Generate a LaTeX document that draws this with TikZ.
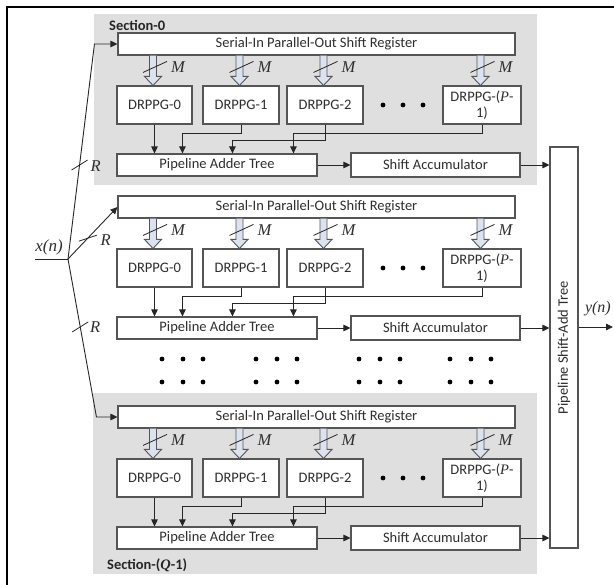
\documentclass[tikz,border=0pt]{standalone}
\usepackage{fontspec}
\setmainfont{Carlito}
\newfontfamily\tms{Liberation Serif}
\usetikzlibrary{arrows.meta,calc}
\definecolor{secgray}{HTML}{DFDFDF}
\definecolor{boxline}{HTML}{555555}
\definecolor{txt}{HTML}{2E2E2E}
\definecolor{hol}{HTML}{DCE3F0}
\newcommand\vi[1]{{\tms\itshape #1}}
\begin{document}
\begin{tikzpicture}[x=1pt,y=-1pt,
  font=\fontsize{14.5}{15}\selectfont,
  box/.style={draw=boxline, line width=1.1pt, fill=white, text=txt, inner sep=0pt},
  conn/.style={draw=black!85, line width=0.9pt, -{Triangle[length=7pt,width=6.5pt]}},
  plain/.style={draw=black!85, line width=0.9pt},
  hollow/.style={draw=boxline, line width=0.9pt, fill=hol},
  lab/.style={font=\fontsize{16.5}{16}\selectfont\tms\itshape, text=txt, inner sep=0pt},
  seclab/.style={font=\fontsize{14.5}{15}\selectfont\bfseries, text=black!85, anchor=west, inner sep=0pt},
  bigdot/.style={fill=black}]
\useasboundingbox (0,0) rectangle (614,585);
% frame
\draw[line width=2.6pt] (7,585) -- (7,7) -- (614,7);
% section backgrounds
\fill[secgray] (94,14) rectangle (537,185);
\fill[secgray] (93,393) rectangle (537,574);
\node[seclab] at (109,25) {Section-0};
\node[seclab] at (107,565) {Section-(\vi{\bfseries Q}-1)};
% pipeline shift-add tree
\node[box, rotate=90, minimum width=401, minimum height=28] (psat) at (564,347.5) {Pipeline Shift-Add Tree};
% sections
\foreach \s/\o in {a/0,b/163,c/373}{
  \begin{scope}[shift={(0,\o)}]
    \node[box, minimum width=397, minimum height=22] (sr\s) at (316.5,44) {Serial-In Parallel-Out Shift Register};
    \node[box, minimum width=75, minimum height=38] (d0\s) at (154.5,105) {DRPPG-0};
    \node[box, minimum width=76, minimum height=38] (d1\s) at (241,105) {DRPPG-1};
    \node[box, minimum width=76, minimum height=38] (d2\s) at (325,105) {DRPPG-2};
    \node[box, minimum width=78, minimum height=38, align=center, font=\fontsize{14.5}{16}\selectfont] (dp\s) at (482,105) {DRPPG-(\vi{P}-\\1)};
    \fill[bigdot] (383,105) circle (2.4) (403,105) circle (2.4) (423,105) circle (2.4);
    \node[box, minimum width=200, minimum height=22] (pat\s) at (217,165) {Pipeline Adder Tree};
    \node[box, minimum width=169, minimum height=24] (sa\s) at (435.5,165) {Shift Accumulator};
  \end{scope}
  % hollow bus arrows with M
  \foreach \d in {d0,d1,d2,dp}{
    \coordinate (t) at ($(\d\s.north |- sr\s.south)+(-1.5,0)$);
    \coordinate (b) at ($(\d\s.north)+(-1.5,0)$);
    \draw[hollow] ($(t)+(-3.5,0)$) -- ($(b)+(-3.5,-9)$) -- ($(b)+(-8.5,-9)$) -- (b)
      -- ($(b)+(8.5,-9)$) -- ($(b)+(3.5,-9)$) -- ($(t)+(3.5,0)$);
    \draw[plain, line width=0.8pt] ($(b)+(-10,-13)$) -- ($(b)+(14,-24)$);
    \node[lab] at ($(b)+(25,-18)$) {M};
  }
  % DRPPG -> adder tree
  \draw[conn] (d0\s.south) -- (d0\s.south |- pat\s.north);
  \draw[conn] (d1\s.south) -- ++(0,9) -| ($(pat\s.north west)+(66,0)$);
  \draw[conn] (d2\s.south) -- ++(0,16) -| ($(pat\s.north west)+(116,0)$);
  \draw[conn] (dp\s.south) -- ++(0,9) -| ($(pat\s.north west)+(177,0)$);
  % adder -> accumulator -> shift-add tree
  \draw[conn] (pat\s) -- (sa\s);
  \draw[conn] (sa\s.east) -- (sa\s.east -| psat.north);
}
% continuation dots
\foreach \x in {162,183,203,256,277,297,359,380,400,450,471,491}{
  \fill[bigdot] (\x,359) circle (2.4) (\x,382) circle (2.4);
}
% input distribution
\coordinate (xin) at (35,259);
\coordinate (J) at (68,259);
\coordinate (ka) at ($(sra.west)+(-23,0)$);
\coordinate (kc) at ($(src.west)+(-21,0)$);
\draw[plain] (xin) -- (J);
\node[lab, font=\fontsize{17}{17}\selectfont\tms\itshape] at (49,247) {x(n)};
\draw[conn] (J) -- (ka) -- (sra.west);
\draw[conn] (J) -- (srb.west);
\draw[conn] (J) -- (kc) -- (src.west);
\path (J) -- (ka) coordinate[pos=0.437] (ra);
\path (J) -- (srb.west) coordinate[pos=0.4] (rb);
\path (J) -- (kc) coordinate[pos=0.43] (rc);
\draw[plain, line width=0.8pt] ($(ra)+(-8,5)$) -- ($(ra)+(8,-5)$);
\draw[plain, line width=0.8pt] ($(rb)+(-9,3)$) -- ($(rb)+(9,-3)$);
\draw[plain, line width=0.8pt] ($(rc)+(-8,5)$) -- ($(rc)+(8,-5)$);
\node[lab] at ($(ra)+(16,1)$) {R};
\node[lab] at ($(rb)+(18,2)$) {R};
\node[lab] at ($(rc)+(15,0)$) {R};
% output
\coordinate (yout) at (613,327);
\draw[conn] (psat.south |- yout) -- (yout);
\node[lab, font=\fontsize{16}{16}\selectfont\tms\itshape, anchor=east] at (611,309) {y(n)};
\end{tikzpicture}
\end{document}
